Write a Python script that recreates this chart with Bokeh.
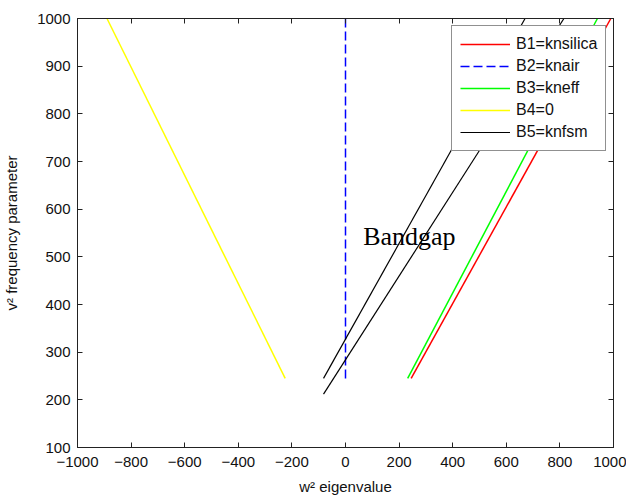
from bokeh.plotting import figure
from bokeh.models import LinearAxis, FixedTicker, Label, CustomJSTickFormatter
from bokeh.embed import file_html
from bokeh.resources import INLINE

# Data
b1_x = [245, 990]
b1_y = [245, 1000]
b2_x = [0, 0]
b2_y = [245, 1000]
b3_x = [232, 940]
b3_y = [245, 1000]
b4_x = [-225, -890]
b4_y = [245, 1000]
b5a_x = [-82, 670]
b5a_y = [245, 1000]
b5b_x = [-82, 815]
b5b_y = [212, 1000]

x_ticks = [-1000, -800, -600, -400, -200, 0, 200, 400, 600, 800, 1000]
y_ticks = [100, 200, 300, 400, 500, 600, 700, 800, 900, 1000]
labels = ["B1=knsilica", "B2=knair", "B3=kneff", "B4=0", "B5=knfsm"]

FONT = "Liberation Sans"
LW = 1.5

p = figure(width=626, height=499, x_range=(-1000, 1000), y_range=(100, 1000),
           output_backend="svg", toolbar_location=None,
           min_border_left=77, min_border_right=13, min_border_top=18, min_border_bottom=52)
p.background_fill_color = "white"
p.border_fill_color = "white"
p.outline_line_color = "#222222"
p.outline_line_width = 1
p.grid.visible = False

for ax in (p.xaxis[0], p.yaxis[0]):
    ax.major_tick_in = 5
    ax.major_tick_out = 0
    ax.minor_tick_line_color = None
    ax.axis_line_color = "#222222"
    ax.major_tick_line_color = "#222222"
    ax.major_label_text_font = FONT
    ax.major_label_text_font_size = "15px"
    ax.major_label_text_color = "#111111"
    ax.axis_label_text_font = FONT
    ax.axis_label_text_font_size = "15px"
    ax.axis_label_text_font_style = "normal"
    ax.axis_label_text_color = "#111111"

p.xaxis[0].ticker = FixedTicker(ticks=x_ticks)
p.yaxis[0].ticker = FixedTicker(ticks=y_ticks)
p.xaxis[0].axis_label = "w\u00b2 eigenvalue"
p.yaxis[0].axis_label = "v\u00b2 frequency parameter"
p.xaxis[0].major_label_standoff = 9
p.yaxis[0].major_label_standoff = 7
p.xaxis[0].axis_label_standoff = 8
p.yaxis[0].axis_label_standoff = 14

for loc, ticks in (("right", y_ticks), ("above", x_ticks)):
    ax = LinearAxis(ticker=FixedTicker(ticks=ticks), major_tick_in=5, major_tick_out=0,
                    minor_tick_line_color=None,
                    formatter=CustomJSTickFormatter(code="return ''"),
                    major_label_standoff=0, axis_line_color="#222222",
                    major_tick_line_color="#222222")
    p.add_layout(ax, loc)

p.line(b1_x, b1_y, line_color="#ff0000", line_width=LW, legend_label=labels[0])
p.line(b2_x, b2_y, line_color="#0000ff", line_width=LW, line_dash="9 4", legend_label=labels[1])
p.line(b3_x, b3_y, line_color="#00ff00", line_width=LW, legend_label=labels[2])
p.line(b4_x, b4_y, line_color="#ffff00", line_width=LW, legend_label=labels[3])
p.line(b5a_x, b5a_y, line_color="black", line_width=1.2, legend_label=labels[4])
p.line(b5b_x, b5b_y, line_color="black", line_width=1.2)

p.add_layout(Label(x=66, y=543, text="Bandgap", text_font="Liberation Serif",
                   text_font_size="26px", text_color="black", text_baseline="alphabetic"))

legend = p.legend[0]
legend.location = (374, 296)
legend.margin = 0
legend.padding = 8
legend.spacing = 2
legend.glyph_width = 50
legend.glyph_height = 20
legend.label_height = 20
legend.label_standoff = 6
legend.label_text_font = FONT
legend.label_text_font_size = "16px"
legend.label_text_color = "#111111"
legend.border_line_color = "#222222"
legend.border_line_width = 1
legend.background_fill_color = "white"
legend.background_fill_alpha = 1.0

open("out.html", "w").write(file_html(p, INLINE))
